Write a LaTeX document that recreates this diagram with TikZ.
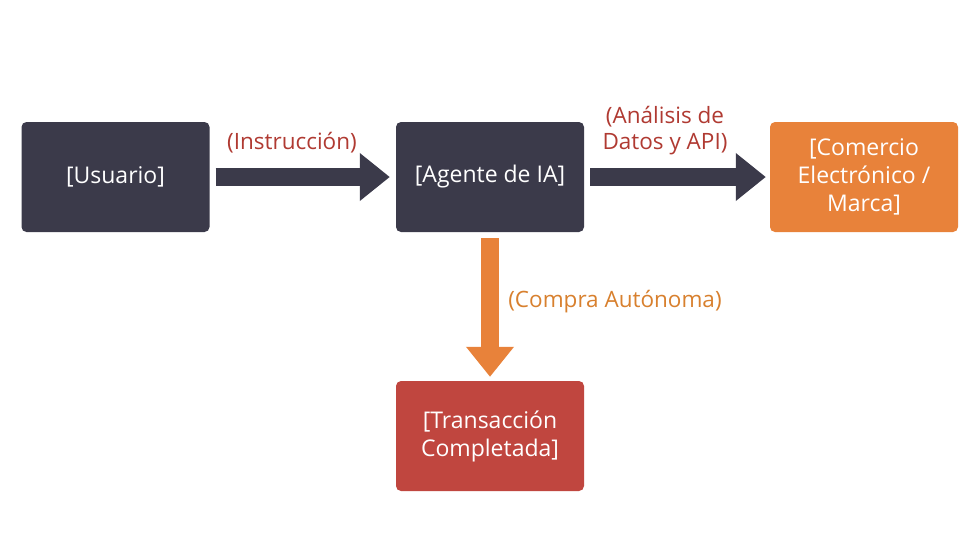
\documentclass[tikz,border=0pt]{standalone}
\usepackage{fontspec}
\setmainfont{Open Sans}
\usetikzlibrary{arrows.meta}
\definecolor{dark}{HTML}{3B3A4A}
\definecolor{orng}{HTML}{E8823A}
\definecolor{redb}{HTML}{C0463F}
\definecolor{redt}{HTML}{B03A32}
\definecolor{orgt}{HTML}{D8802E}
\begin{document}
\begin{tikzpicture}[x=1pt,y=-1pt,
  box/.style={rounded corners=5pt,minimum width=188pt,minimum height=110pt,text=white,font=\fontsize{23}{28}\selectfont,align=center,inner sep=0pt},
  arr/.style={line width=18pt,-{Triangle[length=30pt,width=46pt]}},
  lbl/.style={font=\fontsize{22.5}{26}\selectfont,align=center}]
\useasboundingbox[fill=white] (0,0) rectangle (980,547);
\node[box,fill=dark] (u) at (115.5,177) {[Usuario]};
\node[box,fill=dark] (a) at (490,177) {[Agente de IA]};
\node[box,fill=orng] (c) at (864,177) {[Comercio\\Electrónico /\\Marca]};
\node[box,fill=redb] (t) at (490,436) {[Transacción\\Completada]};
\draw[arr,dark,shorten <=6pt,shorten >=6pt] (u.east) -- (a.west);
\draw[arr,dark,shorten <=6pt,shorten >=4pt] (a.east) -- (c.west);
\draw[arr,orng,shorten <=6pt,shorten >=4pt] (a.south) -- (t.north);
\node[lbl,text=redt] (l1) at (292,143) {(Instrucción)};
\node[lbl,text=redt] (l2) at (665,131) {(Análisis de\\Datos y API)};
\node[lbl,text=orgt] (l3) at (615,302) {(Compra Autónoma)};
\end{tikzpicture}
\end{document}
